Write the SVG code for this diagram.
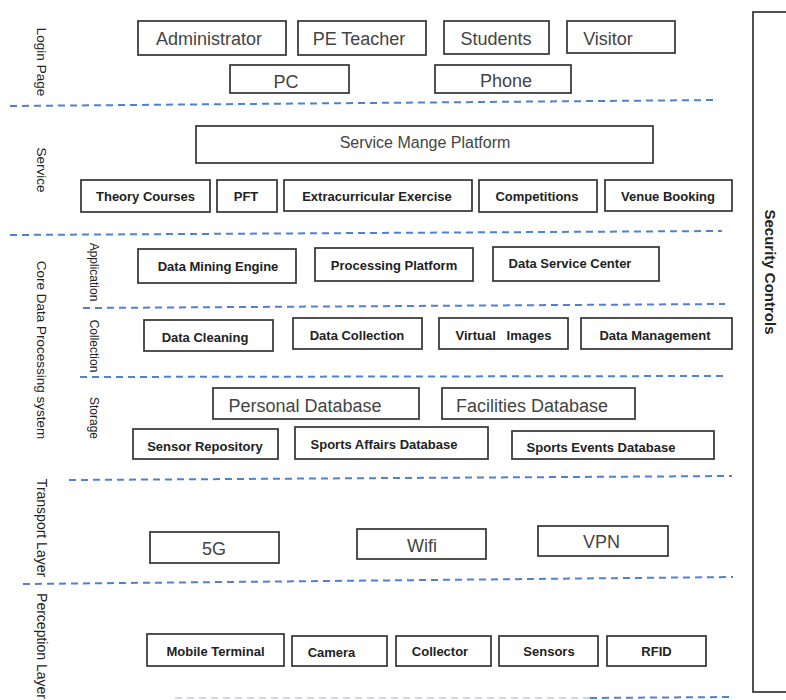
<svg xmlns="http://www.w3.org/2000/svg" width="786" height="700" viewBox="0 0 786 700">
<style>
.box{fill:#fff;stroke:#333;stroke-width:1.7}
.r{font-family:"Liberation Sans",Arial,sans-serif;font-size:18px;fill:#444;text-anchor:middle}
.r16{font-family:"Liberation Sans",Arial,sans-serif;font-size:16px;fill:#444;text-anchor:middle}
.b{font-family:"Liberation Sans",Arial,sans-serif;font-size:13px;font-weight:bold;fill:#222;text-anchor:middle}
.lab{font-family:"Liberation Sans",Arial,sans-serif;font-size:13.5px;fill:#222;text-anchor:middle}
.lab2{font-family:"Liberation Sans",Arial,sans-serif;font-size:12px;fill:#222;text-anchor:middle}
.sep{fill:none;stroke:#4F81D0;stroke-width:2;stroke-dasharray:7 5}
</style>
<rect width="786" height="700" fill="#fff"/>

<g id="separators">
<line class="sep" x1="10" y1="106" x2="717" y2="100"/>
<line class="sep" x1="10" y1="235" x2="722" y2="231"/>
<line class="sep" x1="83" y1="308" x2="725" y2="304"/>
<line class="sep" x1="80" y1="377" x2="724" y2="376"/>
<line class="sep" x1="69" y1="480" x2="732" y2="476"/>
<line class="sep" x1="23" y1="584" x2="733" y2="577"/>
<line class="sep" x1="175" y1="698" x2="590" y2="698" opacity="0.3"/>
<line class="sep" x1="590" y1="698" x2="733" y2="697"/>
</g>

<g id="layer-labels">
<text class="lab" transform="translate(37,62) rotate(90)">Login Page</text>
<text class="lab" transform="translate(37,170) rotate(90)">Service</text>
<text class="lab" transform="translate(37,350) rotate(90)">Core Data Processing system</text>
<text class="lab2" transform="translate(90,272) rotate(90)">Application</text>
<text class="lab2" transform="translate(90,346) rotate(90)">Collection</text>
<text class="lab2" transform="translate(90,418) rotate(90)">Storage</text>
<text class="lab" transform="translate(37,528) rotate(90)" style="font-size:14px">Transport Layer</text>
<text class="lab" transform="translate(37,646) rotate(90)" style="font-size:14px">Perception Layer</text>
</g>

<g id="security-controls">
<rect x="753" y="12" width="60" height="680" fill="none" stroke="#333" stroke-width="1.7"/>
<text transform="translate(765,272) rotate(90)" style="font-family:'Liberation Sans',Arial,sans-serif;font-size:15px;font-weight:bold;fill:#222;text-anchor:middle">Security Controls</text>
</g>

<g id="administrator"><rect class="box" x="138" y="21" width="148" height="34"/><text class="r" x="209" y="45">Administrator</text></g>
<g id="pe-teacher"><rect class="box" x="298" y="21" width="128" height="34"/><text class="r" x="359" y="45">PE Teacher</text></g>
<g id="students"><rect class="box" x="444" y="21" width="105" height="33"/><text class="r" x="496" y="45">Students</text></g>
<g id="visitor"><rect class="box" x="567" y="21" width="108" height="32"/><text class="r" x="608" y="45">Visitor</text></g>
<g id="pc"><rect class="box" x="230" y="65" width="119" height="28"/><text class="r" x="286" y="88">PC</text></g>
<g id="phone"><rect class="box" x="435" y="65" width="136" height="28"/><text class="r" x="506" y="87">Phone</text></g>

<g id="service-platform"><rect class="box" x="196" y="126" width="457" height="37"/><text class="r16" x="425" y="148">Service Mange Platform</text></g>
<g id="theory-courses"><rect class="box" x="81" y="180" width="129" height="32"/><text class="b" x="145.5" y="201">Theory Courses</text></g>
<g id="pft"><rect class="box" x="217" y="180" width="60" height="32"/><text class="b" x="246" y="201">PFT</text></g>
<g id="extracurricular"><rect class="box" x="284" y="180" width="188" height="31"/><text class="b" x="377" y="201">Extracurricular Exercise</text></g>
<g id="competitions"><rect class="box" x="479" y="180" width="118" height="32"/><text class="b" x="537" y="201">Competitions</text></g>
<g id="venue-booking"><rect class="box" x="605" y="180" width="127" height="31"/><text class="b" x="668" y="201">Venue Booking</text></g>

<g id="data-mining"><rect class="box" x="138" y="249" width="158" height="34"/><text class="b" x="218" y="271">Data Mining Engine</text></g>
<g id="processing-platform"><rect class="box" x="315" y="248" width="158" height="33"/><text class="b" x="394" y="270">Processing Platform</text></g>
<g id="data-service-center"><rect class="box" x="493" y="247" width="166" height="34"/><text class="b" x="570" y="268">Data Service Center</text></g>

<g id="data-cleaning"><rect class="box" x="144" y="320" width="129" height="31"/><text class="b" x="205" y="342">Data Cleaning</text></g>
<g id="data-collection"><rect class="box" x="293" y="318" width="129" height="31"/><text class="b" x="357" y="340">Data Collection</text></g>
<g id="virtual-images"><rect class="box" x="439" y="318" width="129" height="31"/><text class="b" x="503.5" y="340" xml:space="preserve">Virtual   Images</text></g>
<g id="data-management"><rect class="box" x="581" y="318" width="151" height="31"/><text class="b" x="655" y="340">Data Management</text></g>

<g id="personal-db"><rect class="box" x="213" y="388" width="206" height="31"/><text class="r" x="305" y="412">Personal Database</text></g>
<g id="facilities-db"><rect class="box" x="442" y="388" width="193" height="31"/><text class="r" x="532" y="412">Facilities Database</text></g>
<g id="sensor-repository"><rect class="box" x="133" y="429" width="145" height="30"/><text class="b" x="205" y="451">Sensor Repository</text></g>
<g id="sports-affairs-db"><rect class="box" x="295" y="427" width="193" height="32"/><text class="b" x="384" y="449">Sports Affairs Database</text></g>
<g id="sports-events-db"><rect class="box" x="512" y="431" width="202" height="28"/><text class="b" x="601" y="452">Sports Events Database</text></g>

<g id="5g"><rect class="box" x="150" y="532" width="129" height="31"/><text class="r" x="214" y="555">5G</text></g>
<g id="wifi"><rect class="box" x="357" y="529" width="129" height="30"/><text class="r" x="422" y="552">Wifi</text></g>
<g id="vpn"><rect class="box" x="538" y="526" width="130" height="30"/><text class="r" x="601.5" y="548">VPN</text></g>

<g id="mobile-terminal"><rect class="box" x="147" y="634" width="137" height="32"/><text class="b" x="215.5" y="656">Mobile Terminal</text></g>
<g id="camera"><rect class="box" x="292" y="636" width="95" height="30"/><text class="b" x="331.5" y="657">Camera</text></g>
<g id="collector"><rect class="box" x="396" y="636" width="95" height="30"/><text class="b" x="440" y="656">Collector</text></g>
<g id="sensors"><rect class="box" x="499" y="636" width="99" height="30"/><text class="b" x="549" y="656">Sensors</text></g>
<g id="rfid"><rect class="box" x="607" y="636" width="99" height="30"/><text class="b" x="656.5" y="656">RFID</text></g>
</svg>
